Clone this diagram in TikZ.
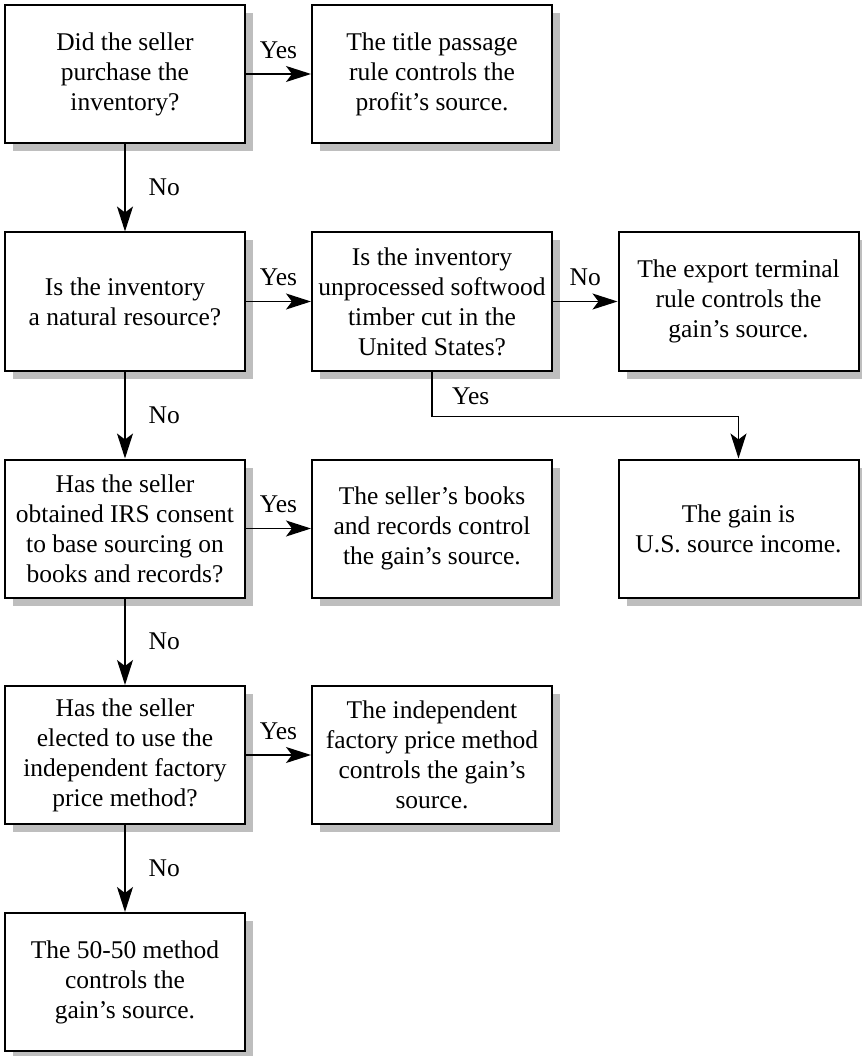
\documentclass[tikz,border=0pt]{standalone}
\usepackage{fontspec}
\setmainfont{Liberation Serif}
\usetikzlibrary{arrows.meta,shadows,calc}
\definecolor{shadowgray}{RGB}{190,190,190}
\begin{document}
\begin{tikzpicture}[x=1pt,y=1pt,
  box/.style={draw=black, line width=2pt, fill=white,
    minimum width=240pt, minimum height=138pt, inner sep=0pt,
    align=center, font=\fontsize{25.5}{30}\selectfont,
    drop shadow={shadow xshift=8pt, shadow yshift=-8pt, fill=shadowgray, opacity=1}},
  arr/.style={draw=black, line width=1.4pt,
    -{Stealth[length=25pt, width=16pt, inset=6pt]}},
  lbl/.style={font=\fontsize{25.5}{30}\selectfont, inner sep=0pt}
]
\useasboundingbox (0,0) rectangle (861,-1056);

% decision and outcome boxes
\node[box] (b1)  at (125,-74)    {Did the seller\\purchase the\\inventory?};
\node[box] (b2)  at (432,-74)    {The title passage\\rule controls the\\profit’s source.};
\node[box] (b3)  at (125,-301.5) {Is the inventory\\a natural resource?};
\node[box] (b4)  at (432,-301.5) {Is the inventory\\unprocessed softwood\\timber cut in the\\United States?};
\node[box] (b5)  at (738.5,-301.5) {The export terminal\\rule controls the\\gain’s source.};
\node[box] (b6)  at (125,-528.5) {Has the seller\\obtained IRS consent\\to base sourcing on\\books and records?};
\node[box] (b7)  at (432,-528.5) {The seller’s books\\and records control\\the gain’s source.};
\node[box] (b8)  at (738.5,-528.5) {The gain is\\U.S. source income.};
\node[box] (b9)  at (125,-755)   {Has the seller\\elected to use the\\independent factory\\price method?};
\node[box] (b10) at (432,-755)   {The independent\\factory price method\\controls the gain’s\\source.};
\node[box] (b11) at (125,-982)   {The 50-50 method\\controls the\\gain’s source.};

% "Yes" branches to the right
\draw[arr] (b1.east) -- node[lbl, above=15pt] (y1) {Yes} (b2.west);
\draw[arr] (b3.east) -- node[lbl, above=15pt] (y2) {Yes} (b4.west);
\draw[arr] (b6.east) -- node[lbl, above=15pt] (y3) {Yes} (b7.west);
\draw[arr] (b9.east) -- node[lbl, above=15pt] (y4) {Yes} (b10.west);
\draw[arr] (b4.east) -- node[lbl, above=15pt] (n5) {No} (b5.west);

% "No" branches downward
\draw[arr] (b1.south) -- node[lbl, right=23pt] (n1) {No} (b3.north);
\draw[arr] (b3.south) -- node[lbl, right=23pt] (n2) {No} (b6.north);
\draw[arr] (b6.south) -- node[lbl, right=23pt] (n3) {No} (b9.north);
\draw[arr] (b9.south) -- node[lbl, right=23pt] (n4) {No} (b11.north);

% elbow from the timber question to U.S. source income
\draw[arr] (b4.south) -- ++(0,-45) coordinate (bend) -| (b8.north);
\node[lbl, anchor=base west] (y5) at ($(bend)+(20,12)$) {Yes};
\end{tikzpicture}
\end{document}
